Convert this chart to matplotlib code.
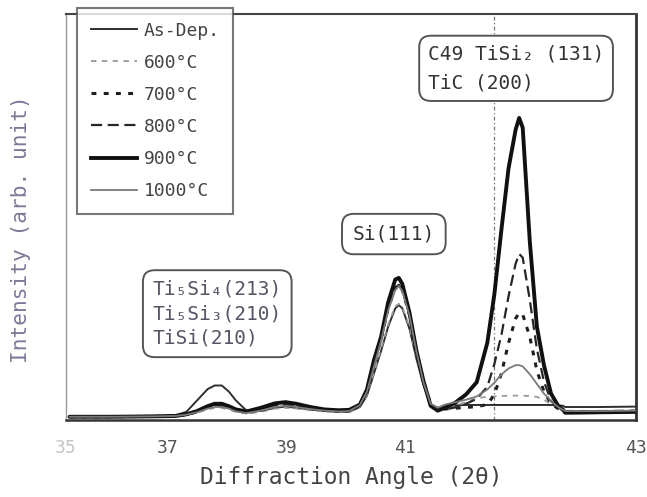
import matplotlib
matplotlib.use("Agg")
import matplotlib.pyplot as plt
from matplotlib.lines import Line2D

# 2-theta sampling points (deg)
two_theta = [35.0, 35.6, 36.2, 36.5, 36.65, 36.8, 36.95, 37.05, 37.15, 37.25,
             37.35, 37.5, 37.7, 37.9, 38.05, 38.2, 38.4, 38.6, 38.8, 38.95,
             39.1, 39.2, 39.3, 39.4, 39.5, 39.6, 39.65, 39.7, 39.8, 39.9,
             40.0, 40.1, 40.2, 40.3, 40.45, 40.6, 40.75, 40.9, 41.0, 41.1,
             41.2, 41.3, 41.35, 41.4, 41.5, 41.6, 41.7, 41.8, 41.9, 41.97,
             42.0, 42.1, 42.5, 43.0]

# Intensity (arb. unit) for each anneal condition
as_dep = [0.8, 0.8, 0.9, 1.2, 2.0, 4.8, 7.6, 8.5, 8.5, 7.0,
          4.8, 2.3, 2.2, 3.0, 3.3, 3.0, 2.6, 2.2, 2.0, 2.0,
          3.2, 6.0, 11.5, 17.0, 23.0, 27.5, 28.3, 27.5, 22.5, 15.0,
          8.5, 3.8, 3.0, 3.3, 3.6, 3.7, 3.7, 3.7, 3.7, 3.7,
          3.7, 3.7, 3.7, 3.7, 3.7, 3.7, 3.7, 3.7, 3.6, 3.5,
          3.2, 3.2, 3.2, 3.3]
t600 = [0.8, 0.8, 0.9, 1.0, 1.2, 1.8, 2.6, 3.0, 3.0, 2.6,
        2.0, 1.6, 2.0, 2.8, 3.0, 2.8, 2.4, 2.1, 2.0, 2.0,
        3.3, 6.2, 11.8, 17.5, 23.5, 28.0, 28.6, 27.8, 23.0, 15.5,
        8.8, 4.0, 2.8, 3.0, 3.6, 4.4, 5.4, 5.7, 5.8, 5.9,
        6.0, 6.0, 6.0, 6.0, 5.9, 5.7, 5.0, 3.9, 2.8, 2.3,
        2.2, 2.2, 2.2, 2.3]
t700 = [0.8, 0.8, 0.9, 1.0, 1.3, 2.0, 3.2, 3.8, 3.8, 3.2,
        2.4, 1.8, 2.4, 3.3, 3.6, 3.3, 2.8, 2.4, 2.2, 2.3,
        3.8, 7.2, 13.5, 20.0, 27.5, 32.5, 33.3, 32.0, 26.0, 17.0,
        9.3, 4.0, 2.5, 2.7, 2.9, 3.1, 3.3, 3.8, 6.3, 11.5,
        19.0, 25.0, 26.4, 26.0, 20.5, 12.2, 7.0, 4.0, 2.8, 2.2,
        2.0, 2.0, 2.0, 2.1]
t800 = [0.8, 0.8, 0.9, 1.0, 1.3, 2.0, 3.0, 3.5, 3.5, 3.0,
        2.3, 1.8, 2.5, 3.5, 3.8, 3.5, 2.9, 2.4, 2.2, 2.3,
        3.8, 7.2, 13.6, 20.2, 27.6, 32.6, 33.3, 32.0, 26.0, 17.0,
        9.3, 4.0, 2.5, 2.6, 3.1, 4.0, 5.2, 8.2, 13.8, 21.0,
        30.5, 38.5, 40.9, 40.0, 29.6, 17.5, 9.5, 4.7, 3.0, 2.4,
        2.2, 2.2, 2.2, 2.3]
t900 = [0.8, 0.8, 0.9, 1.0, 1.4, 2.2, 3.4, 4.0, 4.0, 3.4,
        2.6, 2.1, 3.0, 4.1, 4.4, 4.0, 3.2, 2.6, 2.4, 2.5,
        3.8, 7.5, 14.8, 20.5, 29.0, 34.6, 35.0, 33.5, 26.5, 17.0,
        9.5, 3.5, 2.3, 3.0, 4.3, 6.3, 9.3, 19.0, 31.0, 47.0,
        62.0, 71.5, 74.4, 72.0, 44.0, 23.0, 13.5, 6.5, 3.5, 2.5,
        1.8, 1.8, 1.9, 2.0]
t1000 = [0.8, 0.8, 0.9, 1.0, 1.3, 1.9, 2.8, 3.2, 3.2, 2.8,
         2.1, 1.7, 2.3, 3.2, 3.5, 3.2, 2.7, 2.3, 2.1, 2.2,
         3.7, 7.0, 13.2, 19.5, 27.0, 32.0, 33.0, 31.8, 25.8, 16.8,
         9.2, 4.0, 3.0, 3.8, 4.4, 5.0, 5.8, 7.5, 9.2, 11.2,
         12.7, 13.5, 13.5, 13.2, 11.3, 8.9, 6.5, 4.7, 3.2, 2.5,
         2.2, 2.2, 2.2, 2.3]

labels = ["As-Dep.", "600°C", "700°C", "800°C", "900°C", "1000°C"]
series = [as_dep, t600, t700, t800, t900, t1000]

tick_labels = ["35", "37", "39", "41", "43"]
tick_pos = [34.95, 36.39, 38.06, 39.73, 43.0]

styles = [
    dict(color="#2e2e2e", lw=1.4, ls="-"),
    dict(color="#9a9a9a", lw=1.3, ls=(0, (3, 3))),
    dict(color="#1e1e1e", lw=2.2, ls=(0, (1.6, 2.4))),
    dict(color="#262626", lw=1.6, ls=(0, (5, 2.5))),
    dict(color="#111111", lw=2.8, ls="-"),
    dict(color="#7a7a7a", lw=1.3, ls="-"),
]

mono = "DejaVu Sans Mono"

fig = plt.figure(figsize=(6.47, 4.97), dpi=100)
ax = fig.add_axes([66 / 647, 77 / 497, 570 / 647, 406 / 497])

ax.axvline(41.0, color="#777777", lw=0.9, ls=(0, (3, 2, 1, 2)), zorder=1)

order = [1, 0, 5, 2, 3, 4]
for i in order:
    ax.plot(two_theta, series[i], zorder=3 + i, solid_capstyle="round",
            solid_joinstyle="round", **styles[i])

ax.set_xlim(35, 43)
ax.set_ylim(0, 100)
ax.set_yticks([])
ax.set_xticks(tick_pos)
ax.set_xticklabels(tick_labels, family=mono, fontsize=13, color="#555555")
ax.get_xticklabels()[0].set_color("#c4c4c4")
ax.tick_params(axis="x", length=0, pad=14)

for side, col, w in [("left", "#9a9a9a", 1.0), ("top", "#444444", 1.5),
                     ("right", "#333333", 2.0), ("bottom", "#333333", 1.8)]:
    ax.spines[side].set_color(col)
    ax.spines[side].set_linewidth(w)

ax.set_xlabel("Diffraction Angle (2θ)", family=mono, fontsize=16.5,
              color="#444444", labelpad=6)
ax.set_ylabel("Intensity (arb. unit)", family=mono, fontsize=15.2,
              color="#7a7a98")
ax.yaxis.set_label_coords(-0.062, 0.47)

box = dict(boxstyle="round,pad=0.45,rounding_size=0.6", fc="white",
           ec="#555555", lw=1.4)

ax.text(0.635, 0.925, "C49 TiSi₂ (131)\nTiC (200)", transform=ax.transAxes,
        family=mono, fontsize=14, color="#333333", va="top", ha="left",
        linespacing=1.65, bbox=box, zorder=10)
ax.text(0.503, 0.458, "Si(111)", transform=ax.transAxes,
        family=mono, fontsize=14, color="#333333", va="center", ha="left",
        bbox=dict(boxstyle="round,pad=0.55,rounding_size=0.6", fc="white",
                  ec="#555555", lw=1.4), zorder=10)
ax.text(0.152, 0.345, "Ti₅Si₄(213)\nTi₅Si₃(210)\nTiSi(210)",
        transform=ax.transAxes, family=mono, fontsize=14, color="#555566",
        va="top", ha="left", linespacing=1.35,
        bbox=dict(boxstyle="round,pad=0.5,rounding_size=0.6", fc="white",
                  ec="#555555", lw=1.4), zorder=10)

handles = [Line2D([], [], **s) for s in styles]
leg = fig.legend(handles, labels, loc="upper left",
                 bbox_to_anchor=(77 / 647, 1 - 8 / 497), borderaxespad=0,
                 frameon=True, fancybox=False, edgecolor="#555555",
                 handlelength=2.6, handletextpad=0.35, labelspacing=0.78,
                 borderpad=0.75, prop=dict(family=mono, size=13))
leg.get_frame().set_linewidth(1.5)
for t in leg.get_texts():
    t.set_color("#444444")

fig.savefig("out.png", dpi=100, facecolor="white")
